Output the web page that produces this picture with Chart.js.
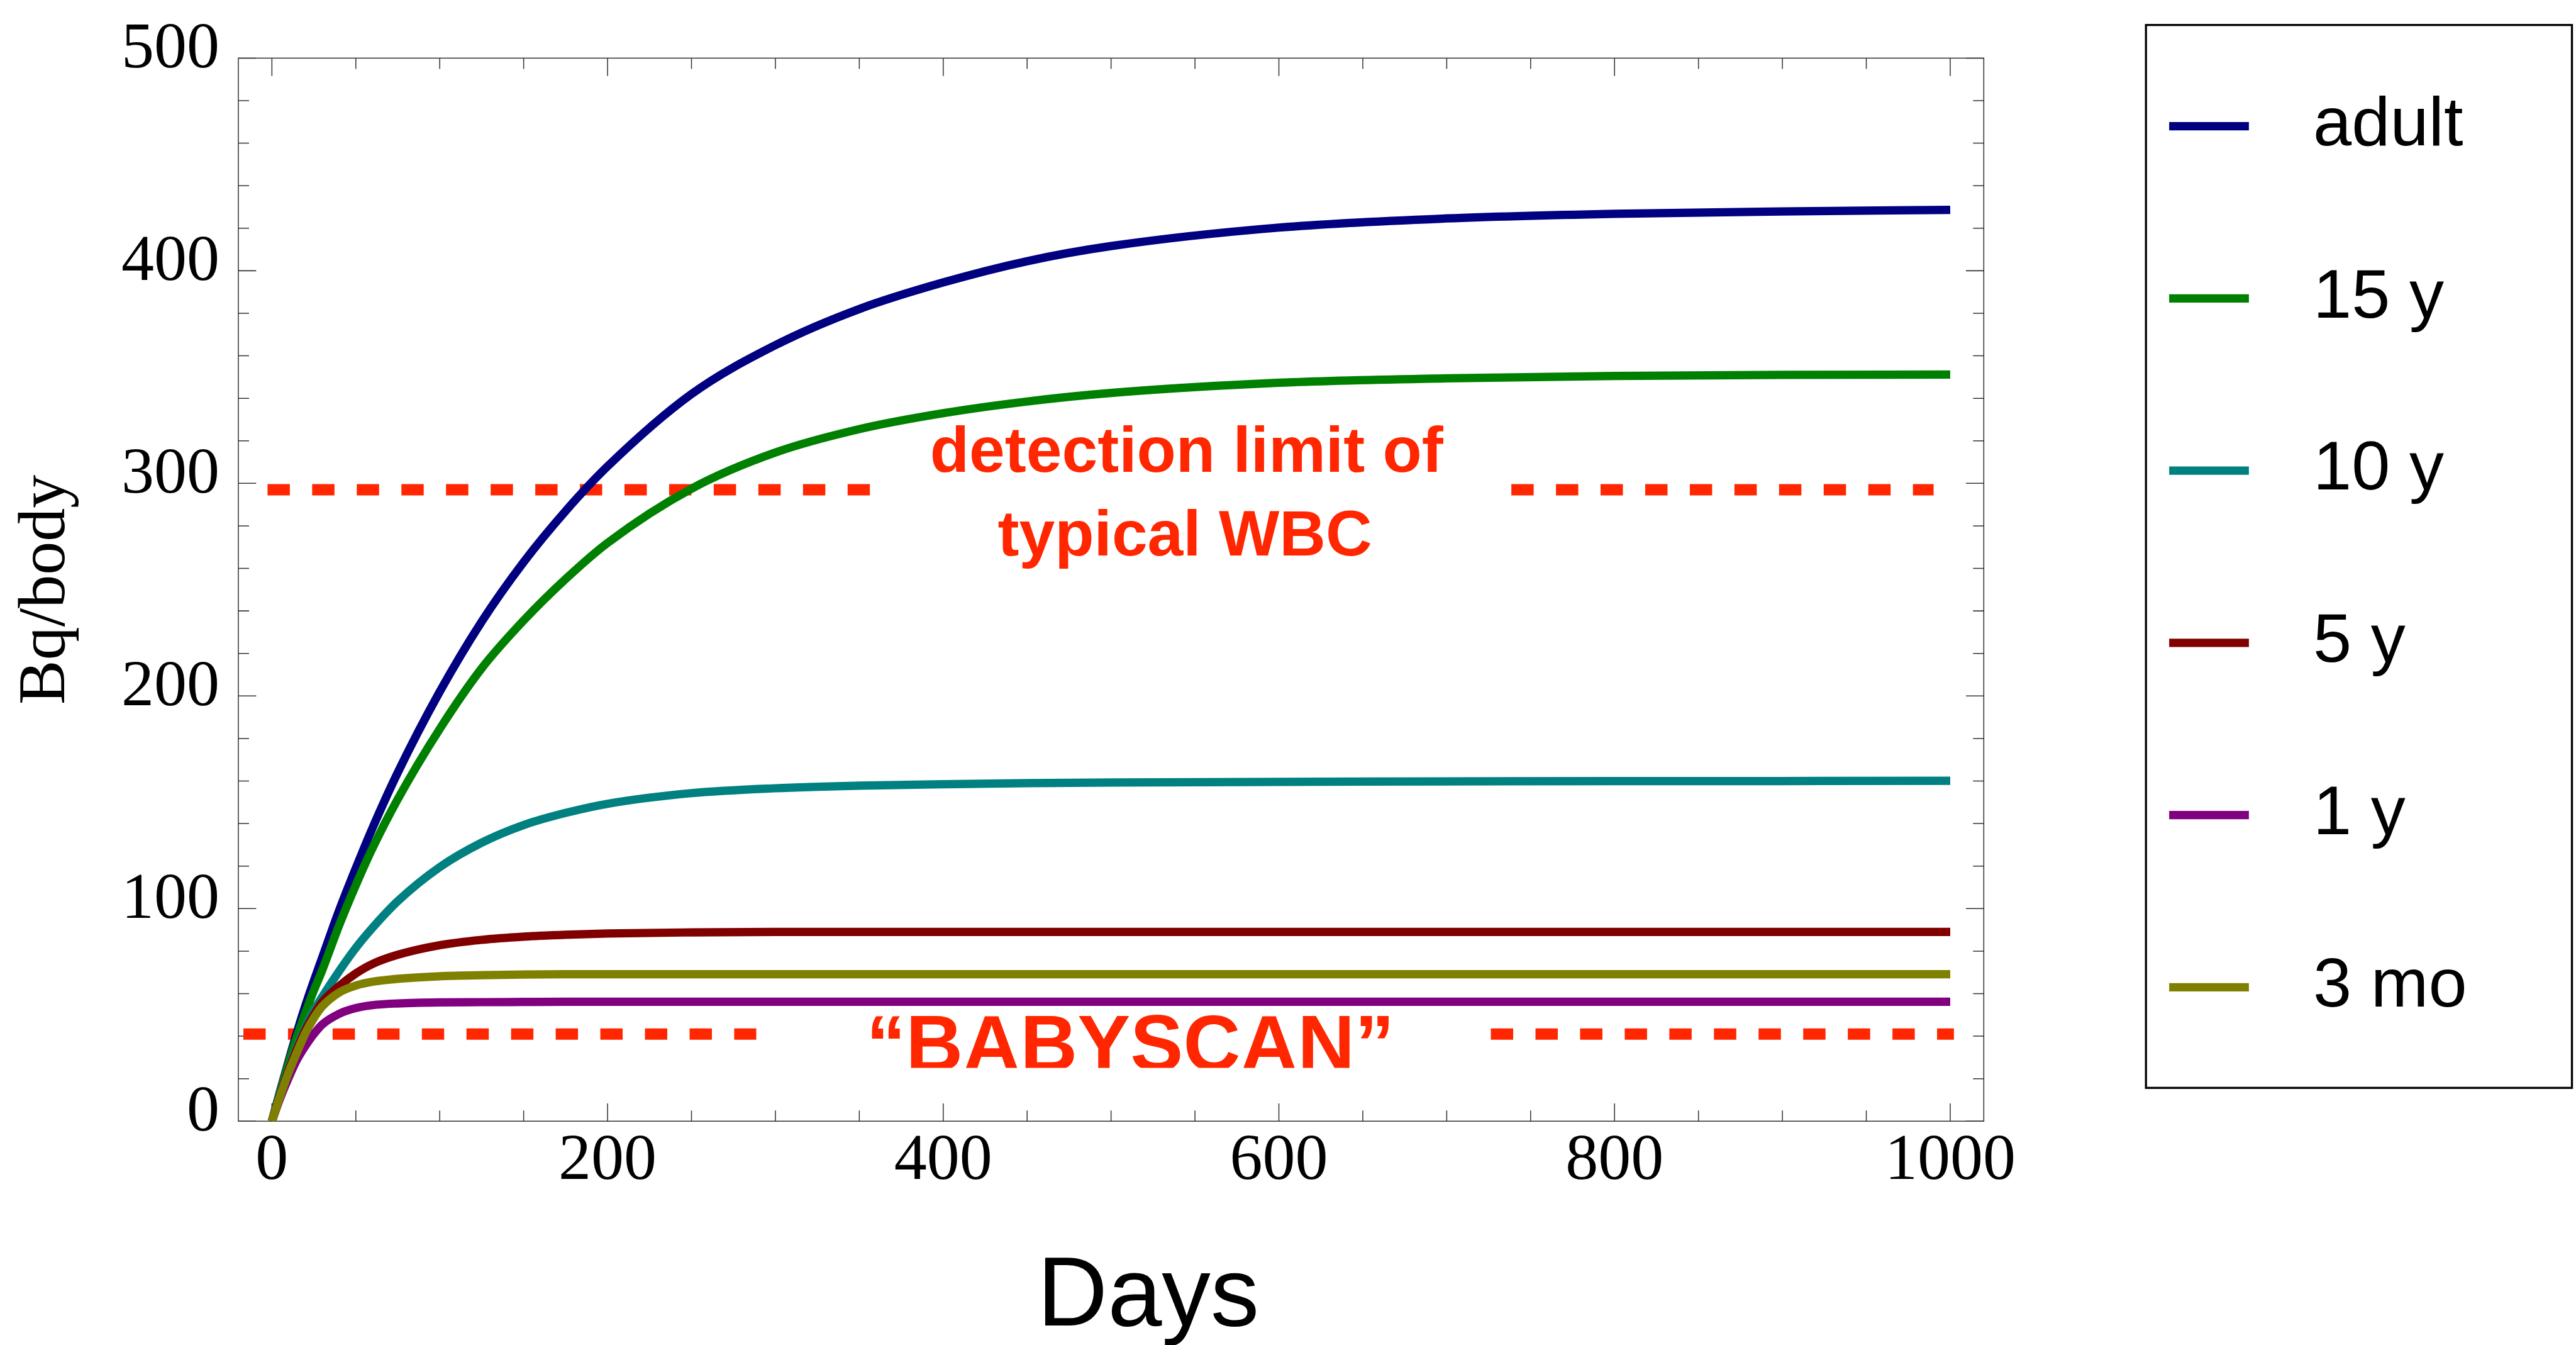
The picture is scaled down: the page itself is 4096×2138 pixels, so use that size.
<!DOCTYPE html>
<html>
<head>
<meta charset="utf-8">
<script src="https://cdn.jsdelivr.net/npm/chart.js@4.4.1/dist/chart.umd.min.js"></script>
<style>
  html, body { margin: 0; padding: 0; background: #fff; }
  #chart { display: block; }
</style>
</head>
<body>
<canvas id="chart" width="4096" height="2138"></canvas>
<script>
// DATA
const days = [0, 5, 10, 15, 20, 25, 30, 40, 50, 60, 75, 100, 125, 150, 175, 200, 250, 300, 350, 400, 450, 500, 600, 700, 800, 900, 1000];
const adult = [0, 14.5, 28.5, 42, 54.5, 66, 77, 99, 119, 138, 164, 202, 235, 263, 287, 308, 342, 365, 382, 394.5, 404.5, 411.6, 420.3, 424.6, 426.8, 427.9, 428.6];
const y15 = [0, 14, 27.5, 40, 51, 61.5, 71, 92, 111, 128.5, 151.5, 184.5, 213, 235.5, 255, 272, 297.5, 314.5, 325.5, 333, 338.5, 342.5, 347.3, 349.4, 350.5, 351, 351.2];
const y10 = [0, 13, 25, 35.5, 44.5, 52, 58.5, 70.5, 81.5, 91, 103.5, 119.5, 131, 139.3, 145, 149.3, 154.3, 156.6, 157.8, 158.5, 159, 159.3, 159.6, 159.8, 160, 160, 160.1];
const y5 = [0, 12.5, 24, 34, 43, 50, 56, 63.5, 69.5, 74, 78.3, 82.8, 85.3, 86.8, 87.7, 88.3, 88.8, 89, 89, 89, 89, 89, 89, 89, 89, 89, 89];
const y1 = [0, 11, 20.5, 29, 35.5, 41, 45.5, 50.5, 53.2, 54.6, 55.4, 55.9, 56, 56.1, 56.2, 56.2, 56.2, 56.2, 56.2, 56.2, 56.2, 56.2, 56.2, 56.2, 56.2, 56.2, 56.2];
const mo3 = [0, 12, 23, 32.5, 41.5, 48.5, 54, 60.5, 63.8, 65.6, 67, 68.2, 68.7, 69, 69.1, 69.1, 69.1, 69.1, 69.1, 69.1, 69.1, 69.1, 69.1, 69.1, 69.1, 69.1, 69.1];

const seriesNames = ['adult', '15 y', '10 y', '5 y', '1 y', '3 mo'];
const seriesColors = ['rgb(0,0,128)', 'rgb(0,128,0)', 'rgb(0,128,128)', 'rgb(128,0,0)', 'rgb(128,0,128)', 'rgb(128,128,0)'];

const wbcLimit = 297;
const wbcSpans = [[-2.6, 356.3], [738.5, 990.1]];
const babyscanLimit = 41;
const babyscanSpans = [[-17, 288.6], [726.3, 1002.2]];

const xTicks = [0, 200, 400, 600, 800, 1000];
const yTicks = [0, 100, 200, 300, 400, 500];
const xMinorStep = 50;
const yMinorStep = 20;

// everything is drawn at 0.946 of the reference size
const S = 0.946;
const RED = 'rgb(255,38,0)';
const SERIF = "'Liberation Serif', 'Times New Roman', serif";
const SANS = "'Liberation Sans', Arial, sans-serif";

const curves = [adult, y15, y10, y5, y1, mo3];
const datasets = curves.map((vals, i) => ({
  label: seriesNames[i],
  data: days.map((d, j) => ({x: d, y: vals[j]})),
  borderColor: seriesColors[i],
  backgroundColor: seriesColors[i],
  borderWidth: 14 * S,
  pointRadius: 0,
  cubicInterpolationMode: 'monotone',
  fill: false,
  order: curves.length - i   // later series on top
}));

function dashedLine(name, level, spans) {
  const pts = [];
  spans.forEach((sp, k) => {
    if (k > 0) pts.push({x: (spans[k - 1][1] + sp[0]) / 2, y: null});
    pts.push({x: sp[0], y: level}, {x: sp[1], y: level});
  });
  return {
    label: name,
    data: pts,
    borderColor: RED,
    borderWidth: 19 * S,
    borderDash: [37.5 * S, 37.5 * S],
    borderCapStyle: 'butt',
    pointRadius: 0,
    spanGaps: false,
    fill: false,
    order: 20
  };
}
datasets.push(dashedLine('WBC limit', wbcLimit, wbcSpans));
datasets.push(dashedLine('BABYSCAN limit', babyscanLimit, babyscanSpans));

// frame with inward ticks on all four sides
const framePlugin = {
  id: 'frame',
  beforeDatasetsDraw(chart) {
    const {ctx, chartArea: a, scales: {x, y}} = chart;
    const major = 30 * S, minor = 18 * S;
    ctx.save();
    ctx.strokeStyle = '#333';
    ctx.lineWidth = 1.6 * S;
    ctx.strokeRect(a.left, a.top, a.right - a.left, a.bottom - a.top);
    ctx.beginPath();
    for (let v = 0; v <= 1000; v += xMinorStep) {
      const px = x.getPixelForValue(v);
      const len = xTicks.includes(v) ? major : minor;
      ctx.moveTo(px, a.bottom); ctx.lineTo(px, a.bottom - len);
      ctx.moveTo(px, a.top); ctx.lineTo(px, a.top + len);
    }
    for (let v = 0; v <= 500; v += yMinorStep) {
      const py = y.getPixelForValue(v);
      const len = yTicks.includes(v) ? major : minor;
      ctx.moveTo(a.left, py); ctx.lineTo(a.left + len, py);
      ctx.moveTo(a.right, py); ctx.lineTo(a.right - len, py);
    }
    ctx.stroke();
    ctx.restore();
  }
};

// red notes, x title and boxed legend
const notesPlugin = {
  id: 'notes',
  afterDatasetsDraw(chart) {
    const {ctx, scales: {x, y}} = chart;
    ctx.save();
    ctx.fillStyle = RED;
    ctx.textAlign = 'center';
    ctx.textBaseline = 'alphabetic';
    ctx.font = 'bold 102px ' + SANS;
    ctx.fillText('detection limit of', x.getPixelForValue(545), y.getPixelForValue(305.5));
    ctx.fillText('typical WBC', x.getPixelForValue(544), y.getPixelForValue(266.1));
    ctx.save();
    ctx.beginPath();
    ctx.rect(0, 0, chart.width, y.getPixelForValue(25.1));
    ctx.clip();
    ctx.font = 'bold 126px ' + SANS;
    ctx.fillText('\u201CBABYSCAN\u201D', x.getPixelForValue(511.5), y.getPixelForValue(23.7));
    ctx.restore();
    ctx.restore();
  },
  afterDraw(chart) {
    const {ctx} = chart;
    ctx.save();
    // x axis title
    ctx.fillStyle = '#000';
    ctx.textAlign = 'center';
    ctx.textBaseline = 'alphabetic';
    ctx.font = '155px ' + SANS;
    ctx.fillText('Days', 1930 * S, 2227 * S);

    // legend box
    const bx = 3607 * S, by = 42 * S, bw = (4323 - 3607) * S, bh = (1828 - 42) * S;
    ctx.strokeStyle = '#000';
    ctx.lineWidth = 3.5 * S;
    ctx.strokeRect(bx, by, bw, bh);
    ctx.font = '110px ' + SANS;
    ctx.textAlign = 'left';
    ctx.textBaseline = 'middle';
    seriesNames.forEach((name, i) => {
      const ly = (212 + i * 289.4) * S;
      ctx.strokeStyle = seriesColors[i];
      ctx.lineWidth = 14 * S;
      ctx.beginPath();
      ctx.moveTo(3646 * S, ly);
      ctx.lineTo(3780 * S, ly);
      ctx.stroke();
      ctx.fillStyle = '#000';
      ctx.fillText(name, 3888 * S, ly);
    });
    ctx.restore();
  }
};

const config = {
  type: 'line',
  data: {datasets: datasets},
  options: {
    responsive: false,
    devicePixelRatio: 1,
    animation: false,
    layout: {padding: {left: 0, top: 70 * S, right: 4096 - 3334.4 * S, bottom: 0}},
    plugins: {
      legend: {display: false},
      tooltip: {enabled: false}
    },
    scales: {
      x: {
        type: 'linear',
        min: -20,
        max: 1020,
        grid: {display: false, drawTicks: false},
        border: {display: false},
        afterBuildTicks: (axis) => { axis.ticks = xTicks.map(v => ({value: v})); },
        afterFit: (axis) => { axis.height = 2138 - 1884 * S; },
        ticks: {
          autoSkip: false,
          maxRotation: 0,
          padding: 2,
          color: '#000',
          font: {family: SERIF, size: 104},
          callback: (v) => String(v)
        }
      },
      y: {
        type: 'linear',
        min: 0,
        max: 500,
        grid: {display: false, drawTicks: false},
        border: {display: false},
        afterBuildTicks: (axis) => { axis.ticks = yTicks.map(v => ({value: v})); },
        afterFit: (axis) => { axis.width = 400.6 * S; },
        ticks: {
          padding: 30,
          labelOffset: -13,
          color: '#000',
          font: {family: SERIF, size: 104},
          callback: (v) => String(v)
        },
        title: {
          display: true,
          text: 'Bq/body',
          color: '#000',
          font: {family: SERIF, size: 106},
          padding: {top: 11, bottom: 0}
        }
      }
    }
  },
  plugins: [framePlugin, notesPlugin]
};

const chart = new Chart(document.getElementById('chart'), config);
</script>
</body>
</html>
